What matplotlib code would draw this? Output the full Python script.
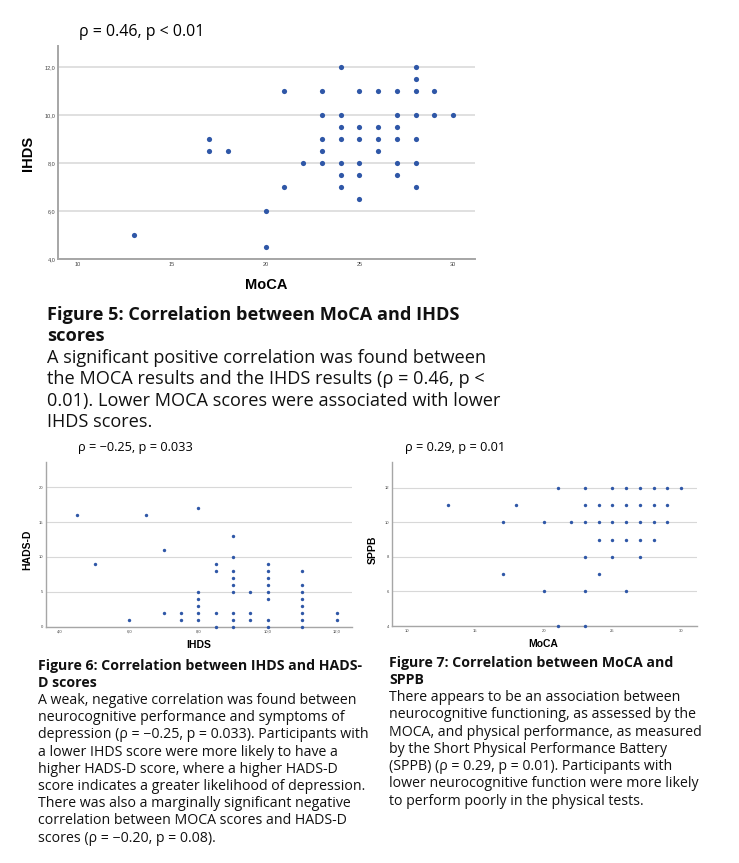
import matplotlib
matplotlib.use("Agg")
import matplotlib.pyplot as plt
from matplotlib.ticker import FuncFormatter

# ---------------- data ----------------
moca_1 = [13, 17, 17, 18, 20, 20, 21, 21, 22, 23, 23, 23, 23, 23,
          24, 24, 24, 24, 24, 24, 24, 25, 25, 25, 25, 25, 25,
          26, 26, 26, 26, 27, 27, 27, 27, 27, 27,
          28, 28, 28, 28, 28, 28, 28, 29, 29, 30]
ihds_1 = [5, 9, 8.5, 8.5, 6, 4.5, 11, 7, 8, 11, 10, 9, 8.5, 8,
          12, 10, 9.5, 9, 8, 7.5, 7, 11, 9.5, 9, 8, 7.5, 6.5,
          11, 9.5, 9, 8.5, 11, 10, 9.5, 9, 8, 7.5,
          12, 11.5, 11, 10, 9, 8, 7, 11, 10, 10]

ihds_2 = [4.5, 5, 6, 6.5, 7, 7, 7.5, 7.5, 8, 8, 8, 8, 8, 8,
          8.5, 8.5, 8.5, 8.5, 9, 9, 9, 9, 9, 9, 9, 9, 9,
          9.5, 9.5, 9.5, 10, 10, 10, 10, 10, 10, 10, 10,
          11, 11, 11, 11, 11, 11, 11, 11, 12, 12]
hadsd_2 = [16, 9, 1, 16, 11, 2, 2, 1, 17, 5, 4, 3, 2, 1,
           9, 8, 2, 0, 13, 10, 8, 7, 6, 5, 2, 1, 0,
           5, 2, 1, 9, 8, 7, 6, 5, 4, 1, 0,
           8, 6, 5, 4, 3, 2, 1, 0, 2, 1]

moca_3 = [13, 17, 17, 18, 20, 20, 21, 21, 22, 23, 23, 23, 23, 23, 23,
          24, 24, 24, 24, 25, 25, 25, 25, 25, 26, 26, 26, 26, 26,
          27, 27, 27, 27, 27, 28, 28, 28, 28, 29, 29, 29, 30]
sppb_3 = [11, 10, 7, 11, 10, 6, 12, 4, 10, 12, 11, 10, 8, 6, 4,
          11, 10, 9, 7, 12, 11, 10, 9, 8, 12, 11, 10, 9, 6,
          12, 11, 10, 9, 8, 12, 11, 10, 9, 12, 11, 10, 12]

x_ticks_moca = [10, 15, 20, 25, 30]
y_ticks_ihds = [4, 6, 8, 10, 12]
x_ticks_ihds = [4, 6, 8, 10, 12]
y_ticks_hads = [0, 5, 10, 15, 20]
y_ticks_sppb = [4, 6, 8, 10, 12]

# ---------------- layout helpers ----------------
W, H = 739, 863
fig = plt.figure(figsize=(W / 100, H / 100), dpi=100)


def fx(x):
    return x / W


def fy(y):
    return 1 - y / H


def add_ax(left, top, right, bottom):
    return fig.add_axes([fx(left), fy(bottom), (right - left) / W, (bottom - top) / H])


DOT = "#2f57a7"
GRID = "#d8d8d8"
SPINE = "#a6a6a6"
AXFONT = "Liberation Sans"
TXT = ["Open Sans", "DejaVu Sans"]

comma1 = FuncFormatter(lambda v, p: f"{v:.1f}".replace(".", ","))
intfmt = FuncFormatter(lambda v, p: f"{int(round(v))}")


def style(ax, xt, yt, xfmt, yfmt, fs, lw):
    for s in ["top", "right"]:
        ax.spines[s].set_visible(False)
    for s in ["left", "bottom"]:
        ax.spines[s].set_color(SPINE)
        ax.spines[s].set_linewidth(lw)
    ax.set_xticks(xt)
    ax.set_yticks(yt)
    ax.xaxis.set_major_formatter(xfmt)
    ax.yaxis.set_major_formatter(yfmt)
    ax.tick_params(length=0, labelsize=fs, colors="#444444", pad=2)
    for lab in ax.get_xticklabels() + ax.get_yticklabels():
        lab.set_family(AXFONT)
    ax.grid(axis="y", color=GRID, linewidth=lw * 0.8)
    ax.set_axisbelow(True)


# ---- Plot 1: MoCA vs IHDS ----
ax1 = add_ax(58, 46, 475, 259)
ax1.scatter(moca_1, ihds_1, s=14, color=DOT, linewidths=0, zorder=3)
ax1.set_xlim(8.93, 31.17)
ax1.set_ylim(4, 12.88)
style(ax1, x_ticks_moca, y_ticks_ihds, intfmt, comma1, 4, 1.4)
fig.text(fx(266), fy(285), "MoCA", family=AXFONT, weight="bold", size=10.5,
         ha="center", va="center")
fig.text(fx(28), fy(153), "IHDS", family=AXFONT, weight="bold", size=10.5,
         ha="center", va="center", rotation=90)
fig.text(fx(79), fy(32), "ρ = 0.46, p < 0.01", family=TXT, size=11.5,
         ha="left", va="center")

# ---- Plot 2: IHDS vs HADS-D ----
ax2 = add_ax(45.7, 462, 352, 626.7)
ax2.scatter(ihds_2, hadsd_2, s=6, color=DOT, linewidths=0, zorder=3, clip_on=False)
ax2.set_xlim(3.59, 12.44)
ax2.set_ylim(0, 23.6)
style(ax2, x_ticks_ihds, y_ticks_hads, comma1, intfmt, 3, 1.0)
fig.text(fx(199), fy(645), "IHDS", family=AXFONT, weight="bold", size=7.5,
         ha="center", va="center")
fig.text(fx(27), fy(550), "HADS-D", family=AXFONT, weight="bold", size=7.5,
         ha="center", va="center", rotation=90)
fig.text(fx(78), fy(448), "ρ = −0.25, p = 0.033", family=TXT, size=9.2,
         ha="left", va="center")

# ---- Plot 3: MoCA vs SPPB ----
ax3 = add_ax(391.7, 462, 696.7, 626)
ax3.scatter(moca_3, sppb_3, s=6, color=DOT, linewidths=0, zorder=3, clip_on=False)
ax3.set_xlim(8.9, 31.15)
ax3.set_ylim(4, 13.5)
style(ax3, x_ticks_moca, y_ticks_sppb, intfmt, intfmt, 3, 1.0)
fig.text(fx(543), fy(644), "MoCA", family=AXFONT, weight="bold", size=7.5,
         ha="center", va="center")
fig.text(fx(373), fy(550), "SPPB", family=AXFONT, weight="bold", size=7.5,
         ha="center", va="center", rotation=90)
fig.text(fx(405), fy(448), "ρ = 0.29, p = 0.01", family=TXT, size=9.2,
         ha="left", va="center")

# ---------------- captions ----------------
cap5_title = ["Figure 5: Correlation between MoCA and IHDS", "scores"]
cap5_body = ["A significant positive correlation was found between",
             "the MOCA results and the IHDS results (ρ = 0.46, p <",
             "0.01). Lower MOCA scores were associated with lower",
             "IHDS scores."]
cap6_title = ["Figure 6: Correlation between IHDS and HADS-", "D scores"]
cap6_body = ["A weak, negative correlation was found between",
             "neurocognitive performance and symptoms of",
             "depression (ρ = −0.25, p = 0.033). Participants with",
             "a lower IHDS score were more likely to have a",
             "higher HADS-D score, where a higher HADS-D",
             "score indicates a greater likelihood of depression.",
             "There was also a marginally significant negative",
             "correlation between MOCA scores and HADS-D",
             "scores (ρ = −0.20, p = 0.08)."]
cap7_title = ["Figure 7: Correlation between MoCA and", "SPPB"]
cap7_body = ["There appears to be an association between",
             "neurocognitive functioning, as assessed by the",
             "MOCA, and physical performance, as measured",
             "by the Short Physical Performance Battery",
             "(SPPB) (ρ = 0.29, p = 0.01). Participants with",
             "lower neurocognitive function were more likely",
             "to perform poorly in the physical tests."]


def caption(x, y0, step, titles, body, size):
    y = y0
    for t in titles:
        fig.text(fx(x), fy(y), t, family=TXT, weight="bold", size=size,
                 ha="left", va="center", color="#111111")
        y += step
    for t in body:
        fig.text(fx(x), fy(y), t, family=TXT, size=size,
                 ha="left", va="center", color="#111111")
        y += step


caption(47, 315, 21.4, cap5_title, cap5_body, 13.05)
caption(38, 666, 17.2, cap6_title, cap6_body, 10.2)
caption(389, 663, 17.25, cap7_title, cap7_body, 10.2)

fig.savefig("out.png", dpi=100, facecolor="white")
